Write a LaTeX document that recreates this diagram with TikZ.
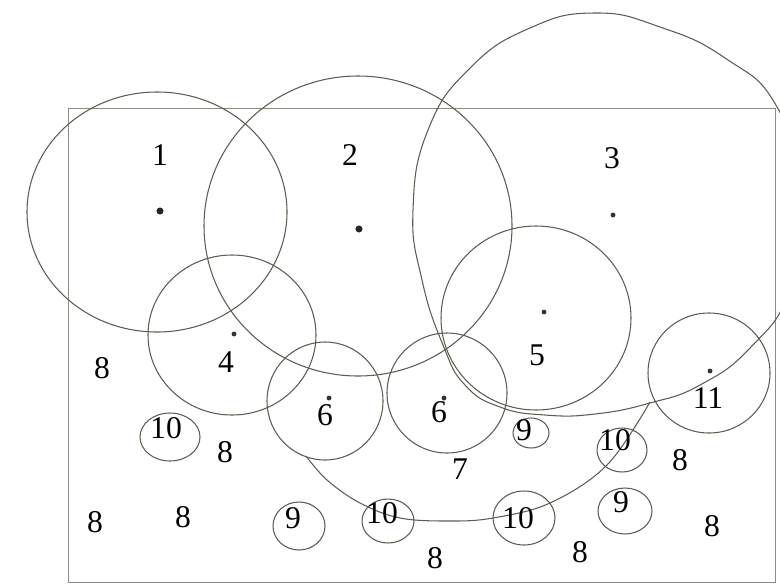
\documentclass[tikz,border=0pt]{standalone}
\usepackage{fontspec}
\setmainfont{Liberation Serif}
\usepackage{tikz}
\usetikzlibrary{positioning}
\definecolor{pencil}{RGB}{92,92,80}
\definecolor{framegrey}{RGB}{140,140,132}

\begin{document}
\begin{tikzpicture}[x=0.02cm, y=-0.02cm,
    ring/.style={draw=pencil, line width=0.6pt},
    num/.style={font=\fontsize{18}{20}\selectfont, inner sep=0pt},
    bigdot/.style={circle, fill=black!85, inner sep=0pt, minimum size=4pt},
    smalldot/.style={circle, fill=black!80, inner sep=0pt, minimum size=2.8pt}]
    \useasboundingbox (0,0) rectangle (780,585);
    \clip (0,0) rectangle (780,585);
    \draw[framegrey, line width=0.5pt] (68,108) rectangle (775,582);

    \draw[ring] (157,212) ellipse [x radius=130, y radius=120];
    \draw[ring] (358,226) ellipse [x radius=154, y radius=150];
    \draw[ring] plot[smooth cycle, tension=0.8] coordinates {
        (413,210) (428,130) (470,68) (530,28) (595,13) (660,27) (725,58) (777,107)
        (805,200) (790,290) (750,348) (700,385) (650,403) (595,414) (545,415)
        (500,407) (465,385) (443,345) (422,280)};
    \draw[ring] (232,335) ellipse [x radius=84, y radius=80];
    \draw[ring] (536,318) ellipse [x radius=95, y radius=92];
    \draw[ring] (325,401) ellipse [x radius=58, y radius=59];
    \draw[ring] (447,393) ellipse [x radius=60, y radius=60];
    \draw[ring] (709,373) ellipse [x radius=61, y radius=60];
    \draw[ring] plot[smooth, tension=0.6] coordinates {
        (306,456) (327,480) (360,503) (400,518) (450,521) (493,518) (550,503) (607,465) (650,402)};

    \node[bigdot] (c1) at (160,211) {};
    \node[bigdot] (c2) at (359,229) {};
    \node[smalldot] (c3) at (613,215) {};
    \node[smalldot] (c4) at (234,334) {};
    \node[smalldot] (c5) at (544,312) {};
    \node[smalldot] (c6a) at (329,398) {};
    \node[smalldot] (c6b) at (444,398) {};
    \node[smalldot] (c11) at (710,371) {};

    \node[num] (n1) at (160,155) {1};
    \node[num] (n2) at (350,155) {2};
    \node[num] (n3) at (612,158) {3};
    \node[num] (n4) at (226,362) {4};
    \node[num] (n5) at (537,355) {5};
    \node[num] (n6a) at (325,415) {6};
    \node[num] (n6b) at (439,412) {6};
    \node[num] (n7) at (460,469) {7};
    \node[num] (n11) at (708,398) {11};

    \foreach \cx/\cy/\rx/\ry/\lx/\ly/\t [count=\i] in {
        170/437/30/24/166/428/10, 299/526/26/24/293/518/9, 388/521/26/22/382/513/10,
        524/518/31/27/518/518/10, 531/433/18/15/524/430/9, 622/450/25/22/615/440/10,
        625/511/27/23/621/502/9} {
        \draw[ring] (\cx,\cy) ellipse [x radius=\rx, y radius=\ry];
        \node[num] (s\i) at (\lx,\ly) {\t};
    }
    \foreach \lx/\ly [count=\i] in {102/368, 225/452, 95/522, 183/517, 435/558, 580/552, 680/460, 712/526}
        \node[num] (e\i) at (\lx,\ly) {8};
\end{tikzpicture}
\end{document}
